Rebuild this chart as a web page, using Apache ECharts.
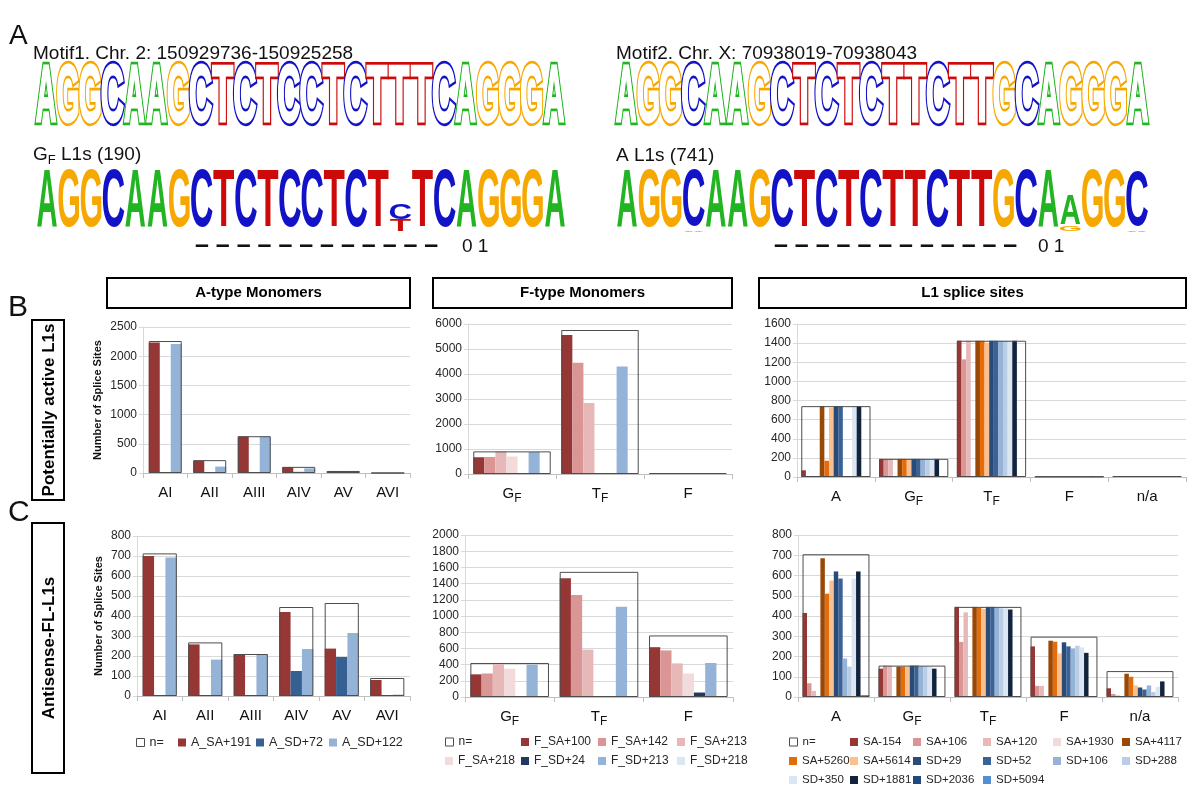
<!DOCTYPE html>
<html><head><meta charset="utf-8">
<script src="https://cdn.jsdelivr.net/npm/echarts@6.0.0/dist/echarts.min.js"></script>
<style>html,body{margin:0;padding:0;background:#fff}#c{width:1200px;height:795px}</style>
</head><body><div id="c"></div>
<script>
// ================= DATA =================
// Sequence logos (A)
const motif1Seq = 'AGGCAAGCTCTCCTCTTTCAGGGA';
const motif2Seq = 'AGGCAAGCTCTCTTCTTGCAGGGA';
const gfL1sSeq  = 'AGGCAAGCTCTCCTCT-TCAGGGA';
const aL1sSeq   = 'AGGCAAGCTCTCTTCTTGCAAGGC';
// mixed columns: 1-based position -> stack from bottom [letter, bits]
const gfL1sMixed = {17: [['T', 0.39], ['C', 0.56]]};
const aL1sMixed  = {4: [['A', 0.04], ['C', 1.94]], 21: [['G', 0.17], ['A', 1.05]], 24: [['A', 0.06], ['C', 1.88]]};

// Bar chart categories
const aTypeCats = ['AI', 'AII', 'AIII', 'AIV', 'AV', 'AVI'];
const fTypeCats = ['G_F', 'T_F', 'F'];
const l1Cats = ['A', 'G_F', 'T_F', 'F', 'n/a'];
const aNames = ['A_SA+191', 'A_SD+72', 'A_SD+122'];
const fNames = ['F_SA+100', 'F_SA+142', 'F_SA+213', 'F_SA+218', 'F_SD+24', 'F_SD+213', 'F_SD+218'];
const l1Names = ['SA-154', 'SA+106', 'SA+120', 'SA+1930', 'SA+4117', 'SA+5260', 'SA+5614',
  'SD+29', 'SD+52', 'SD+106', 'SD+288', 'SD+350', 'SD+1881', 'SD+2036', 'SD+5094'];

// B: potentially active L1s
const bA_n = [2260, 220, 630, 105, 35, 0];
const bA_vals = [
  [2235, 210, 625, 100, 30, 0],   // A_SA+191
  [0, 0, 0, 20, 30, 0],           // A_SD+72
  [2210, 110, 625, 80, 30, 0]     // A_SD+122
];
const bF_n = [905, 5760, 40];
const bF_vals = [
  [670, 5560, 35], [680, 4450, 30], [910, 2840, 25], [700, 0, 20],
  [0, 0, 5], [880, 4300, 30], [0, 0, 25]
];
const bL1_n = [741, 190, 1425, 5, 10];
const bL1_vals = [
  [70, 189, 1425, 3, 8],     // SA-154
  [3, 189, 1230, 3, 8],      // SA+106
  [0, 189, 1425, 3, 8],      // SA+120
  [0, 0, 0, 0, 0],           // SA+1930
  [741, 189, 1425, 3, 10],   // SA+4117
  [170, 189, 1425, 5, 10],   // SA+5260
  [725, 189, 1405, 3, 8],    // SA+5614
  [741, 189, 1425, 5, 10],   // SD+29
  [741, 189, 1425, 5, 10],   // SD+52
  [0, 189, 1425, 3, 8],      // SD+106
  [0, 189, 1425, 3, 8],      // SD+288
  [741, 189, 1425, 3, 8],    // SD+350
  [741, 189, 1425, 5, 10],   // SD+1881
  [2, 0, 0, 0, 0],           // SD+2036
  [2, 0, 0, 0, 0]            // SD+5094
];
// C: antisense-FL-L1s
const cA_n = [713, 268, 210, 445, 465, 90];
const cA_vals = [
  [700, 258, 210, 420, 237, 80],
  [0, 5, 0, 125, 195, 0],
  [693, 182, 210, 235, 315, 7]
];
const cF_n = [420, 1545, 760];
const cF_vals = [
  [280, 1465, 615], [290, 1260, 575], [410, 585, 415], [350, 0, 290],
  [0, 0, 55], [400, 1115, 420], [0, 0, 0]
];
const cL1_n = [705, 155, 445, 298, 128];
const cL1_vals = [
  [415, 140, 445, 250, 43],
  [68, 155, 272, 55, 15],
  [30, 155, 418, 55, 8],
  [0, 0, 0, 0, 0],
  [685, 150, 445, 278, 115],
  [510, 150, 440, 273, 100],
  [575, 150, 435, 215, 57],
  [620, 155, 445, 270, 47],
  [585, 155, 445, 250, 37],
  [190, 152, 442, 240, 57],
  [150, 152, 438, 253, 25],
  [585, 150, 438, 245, 50],
  [620, 140, 432, 218, 77],
  [8, 0, 0, 5, 0],
  [10, 0, 2, 3, 0]
];

// ================= STYLE =================
const FONT = '"Liberation Sans", Arial, Helvetica, sans-serif';
const LETTER_COLORS = {A: '#22B422', C: '#1212C6', G: '#F6A800', T: '#CC0A0A'};
const INK = {A: 0.72, C: 0.64, G: 0.69, T: 0.60};
const aColors = ['#953735', '#376092', '#95B3D7'];
const fColors = ['#953735', '#D99694', '#E6B9B8', '#F2DCDB', '#1F3A60', '#95B3D7', '#DCE6F2'];
const l1Colors = ['#953735', '#D99694', '#E6B9B8', '#F2DCDB', '#984807', '#E46C0A', '#FAC090',
  '#2A4A78', '#3A6296', '#95B3D7', '#B9CDE5', '#DCE6F2', '#10243E', '#1F497D', '#558ED5'];
const nameColor = {};
[[aNames, aColors], [fNames, fColors], [l1Names, l1Colors]].forEach(([ns, cs]) => ns.forEach((n, i) => nameColor[n] = cs[i]));

const grids = [], xAxes = [], yAxes = [], series = [], legends = [], graphic = [];

// ---------- sequence logos via custom series ----------
function buildColumns(seq, mixed) {
  return seq.split('').map((ch, i) => mixed[i + 1] || [[ch, 2]]);
}
function addLogo(left, top, width, height, columns, outlined) {
  const gi = grids.length;
  grids.push({left, top, width, height, outerBoundsMode: 'none'});
  const xi = xAxes.length;
  xAxes.push({gridIndex: gi, type: 'category', data: columns.map((c, i) => String(i + 1)), show: false});
  const yi = yAxes.length;
  yAxes.push({gridIndex: gi, type: 'value', min: 0, max: 2, show: false});
  const items = [];
  columns.forEach((col, i) => {
    let base = 0;
    col.forEach(([letter, bits]) => { items.push({i, base, bits, letter}); base += bits; });
  });
  series.push({
    type: 'custom', xAxisIndex: xi, yAxisIndex: yi, silent: true, animation: false,
    data: items.map(d => [d.i, d.base, d.bits]),
    renderItem: function (params, api) {
      const d = items[params.dataIndex];
      const p0 = api.coord([d.i, d.base]);
      const p1 = api.coord([d.i, d.base + d.bits]);
      const w = api.size([1, 0])[0];
      const h = p0[1] - p1[1];
      const fs = outlined ? 40 : 60;
      const inkW = outlined ? 0.93 : 0.95;
      const sx = (w * inkW) / (INK[d.letter] * fs);
      const sy = h / (0.72 * fs);
      const col = LETTER_COLORS[d.letter];
      const base = {x: p0[0], y: (p0[1] + p1[1]) / 2 + 0.012 * fs * sy, scaleX: sx, scaleY: sy};
      const st = {text: d.letter, x: 0, y: 0, font: 'bold ' + fs + 'px ' + FONT, align: 'center', verticalAlign: 'middle'};
      if (!outlined) {
        return Object.assign({type: 'text', style: Object.assign({fill: col}, st)}, base);
      }
      return {
        type: 'group', children: [
          Object.assign({type: 'text', style: Object.assign({fill: '#fff', stroke: col, lineWidth: 4.2}, st)}, base),
          Object.assign({type: 'text', style: Object.assign({fill: '#fff', stroke: '#fff', lineWidth: 1.4}, st)}, base)
        ]
      };
    }
  });
}
addLogo(35, 70, 530, 57, buildColumns(motif1Seq, {}), true);
addLogo(36, 173, 530, 59, buildColumns(gfL1sSeq, gfL1sMixed), false);
addLogo(615, 70, 534, 57, buildColumns(motif2Seq, {}), true);
addLogo(616, 173, 532, 59, buildColumns(aL1sSeq, aL1sMixed), false);

// ---------- bar charts ----------
function catLabel(v) {
  const m = /^(.)_(.)$/.exec(v);
  return m ? '{m|' + m[1] + '}{s|' + m[2] + '}' : '{m|' + v + '}';
}
function addBars(cfg) {
  const gi = grids.length;
  grids.push({left: cfg.left, top: cfg.top, width: cfg.width, height: cfg.height, outerBoundsMode: 'none'});
  const xi = xAxes.length;
  xAxes.push({
    gridIndex: gi, type: 'category', data: cfg.cats,
    axisLine: {lineStyle: {color: '#BFBFBF', width: 1}},
    axisTick: {show: true, length: 5, lineStyle: {color: '#BFBFBF'}},
    axisLabel: {
      formatter: catLabel, margin: 12, interval: 0,
      rich: {
        m: {fontSize: 15, color: '#111', fontFamily: FONT, verticalAlign: 'top'},
        s: {fontSize: 12, color: '#111', fontFamily: FONT, verticalAlign: 'top', padding: [7, 0, 0, 0]}
      }
    }
  });
  const xn = xAxes.length;
  xAxes.push({gridIndex: gi, type: 'category', data: cfg.cats, show: false});
  const yi = yAxes.length;
  yAxes.push({
    gridIndex: gi, type: 'value', min: 0, max: cfg.max, interval: cfg.interval,
    axisLine: {show: true, lineStyle: {color: '#D9D9D9'}},
    axisTick: {show: true, length: 4, lineStyle: {color: '#D9D9D9'}},
    splitLine: {show: true, lineStyle: {color: '#D9D9D9', width: 1}},
    axisLabel: {fontSize: 12, color: '#262626', fontFamily: FONT, margin: 6, formatter: v => String(v)},
    name: cfg.yName || '', nameLocation: 'middle', nameGap: cfg.nameGap || 40,
    nameTextStyle: {fontWeight: 'bold', fontSize: 11, color: '#111', fontFamily: FONT}
  });
  cfg.names.forEach((nm, k) => {
    series.push({
      type: 'bar', name: nm, xAxisIndex: xi, yAxisIndex: yi, data: cfg.vals[k],
      barGap: '0%', barCategoryGap: cfg.gap + '%', animation: false,
      itemStyle: {color: cfg.colors[k]}
    });
  });
  series.push({
    type: 'bar', name: 'n=', xAxisIndex: xn, yAxisIndex: yi, data: cfg.n,
    barWidth: (100 - cfg.gap) + '%', z: 5, animation: false,
    itemStyle: {color: 'rgba(255,255,255,0)', borderColor: '#4D4D4D', borderWidth: 1}
  });
}
addBars({left: 143, top: 327, width: 267, height: 146, cats: aTypeCats, names: aNames, vals: bA_vals, n: bA_n,
  colors: aColors, max: 2500, interval: 500, gap: 26, yName: 'Number of Splice Sites', nameGap: 40});
addBars({left: 468, top: 324, width: 264, height: 150, cats: fTypeCats, names: fNames, vals: bF_vals, n: bF_n,
  colors: fColors, max: 6000, interval: 1000, gap: 12});
addBars({left: 797, top: 324, width: 389, height: 153, cats: l1Cats, names: l1Names, vals: bL1_vals, n: bL1_n,
  colors: l1Colors, max: 1600, interval: 200, gap: 11});
addBars({left: 137, top: 536, width: 273, height: 160, cats: aTypeCats, names: aNames, vals: cA_vals, n: cA_n,
  colors: aColors, max: 800, interval: 100, gap: 25, yName: 'Number of Splice Sites', nameGap: 33});
addBars({left: 465, top: 535, width: 268, height: 162, cats: fTypeCats, names: fNames, vals: cF_vals, n: cF_n,
  colors: fColors, max: 2000, interval: 200, gap: 12});
addBars({left: 798, top: 535, width: 380, height: 162, cats: l1Cats, names: l1Names, vals: cL1_vals, n: cL1_n,
  colors: l1Colors, max: 800, interval: 100, gap: 12});

// ---------- legends (C row) ----------
function addLegend(name, left, cy, fs) {
  const isN = name === 'n=';
  legends.push({
    data: [name], left: left, top: cy - 7, orient: 'horizontal', padding: 0, itemGap: 0,
    itemWidth: 8, itemHeight: 8, icon: 'rect', selectedMode: false,
    itemStyle: isN ? {color: '#ffffff', borderColor: '#4D4D4D', borderWidth: 1}
                   : {color: nameColor[name], borderWidth: 0},
    textStyle: {fontSize: fs, color: '#262626', fontFamily: FONT}
  });
}
const legendLayout = [
  [['n=', 136], ['A_SA+191', 178], ['A_SD+72', 256], ['A_SD+122', 329]],
  [['n=', 445], ['F_SA+100', 521], ['F_SA+142', 598], ['F_SA+213', 677]],
  [['F_SA+218', 445], ['F_SD+24', 521], ['F_SD+213', 598], ['F_SD+218', 677]],
  [['n=', 789], ['SA-154', 850], ['SA+106', 913], ['SA+120', 983], ['SA+1930', 1053], ['SA+4117', 1122]],
  [['SA+5260', 789], ['SA+5614', 850], ['SD+29', 913], ['SD+52', 983], ['SD+106', 1053], ['SD+288', 1122]],
  [['SD+350', 789], ['SD+1881', 850], ['SD+2036', 913], ['SD+5094', 983]]
];
const legendRowY = [743, 743, 762, 743, 762, 781];
const legendFont = [12.5, 12, 12, 11.5, 11.5, 11.5];
legendLayout.forEach((row, r) => row.forEach(([nm, x]) => addLegend(nm, x, legendRowY[r], legendFont[r])));

// ---------- annotations ----------
function txt(x, y, text, font, extra) {
  return Object.assign({type: 'text', x, y, silent: true,
    style: Object.assign({text, font, fill: '#111', align: 'left', verticalAlign: 'middle'}, extra || {})});
}
const subRich = {s: {font: '13px ' + FONT, fill: '#111', padding: [9, 0, 0, 0], verticalAlign: 'top'},
                 m: {font: '19px ' + FONT, fill: '#111', verticalAlign: 'top'}};
graphic.push(txt(9, 36, 'A', '28px ' + FONT));
graphic.push(txt(33, 54, 'Motif1. Chr. 2: 150929736-150925258', '19px ' + FONT));
graphic.push(txt(33, 156, '{m|G}{s|F}{m| L1s (190)}', '19px ' + FONT, {rich: subRich}));
graphic.push(txt(616, 54, 'Motif2. Chr. X: 70938019-70938043', '19px ' + FONT));
graphic.push(txt(616, 156, 'A L1s (741)', '19px ' + FONT));
graphic.push(txt(195, 246, '– – – – – – – – – – – –', 'bold 25px ' + FONT));
graphic.push(txt(462, 247, '0 1', '19px ' + FONT));
graphic.push(txt(774, 246, '– – – – – – – – – – – –', 'bold 25px ' + FONT));
graphic.push(txt(1038, 247, '0 1', '19px ' + FONT));
graphic.push(txt(8, 308, 'B', '30px ' + FONT));
graphic.push(txt(8, 513, 'C', '30px ' + FONT));
// row label boxes
function box(x, y, w, h) {
  return {type: 'rect', silent: true, shape: {x, y, width: w, height: h}, style: {fill: '#fff', stroke: '#000', lineWidth: 2}};
}
graphic.push(box(32, 320, 32, 180));
graphic.push({type: 'text', x: 49, y: 410, rotation: Math.PI / 2, silent: true,
  style: {text: 'Potentially active L1s', font: 'bold 17px ' + FONT, fill: '#000', align: 'center', verticalAlign: 'middle'}});
graphic.push(box(32, 523, 32, 250));
graphic.push({type: 'text', x: 49, y: 648, rotation: Math.PI / 2, silent: true,
  style: {text: 'Antisense-FL-L1s', font: 'bold 17px ' + FONT, fill: '#000', align: 'center', verticalAlign: 'middle'}});
// header boxes
[[107, 303, 'A-type Monomers'], [433, 299, 'F-type Monomers'], [759, 427, 'L1 splice sites']].forEach(([x, w, t]) => {
  graphic.push(box(x, 278, w, 30));
  graphic.push({type: 'text', x: x + w / 2, y: 293, silent: true,
    style: {text: t, font: 'bold 15px ' + FONT, fill: '#000', align: 'center', verticalAlign: 'middle'}});
});

const chart = echarts.init(document.getElementById('c'), null, {renderer: 'canvas', width: 1200, height: 795});
chart.setOption({
  backgroundColor: '#ffffff',
  animation: false,
  textStyle: {fontFamily: FONT},
  grid: grids, xAxis: xAxes, yAxis: yAxes, series: series, legend: legends,
  graphic: {elements: graphic}
});
</script>
</body></html>
